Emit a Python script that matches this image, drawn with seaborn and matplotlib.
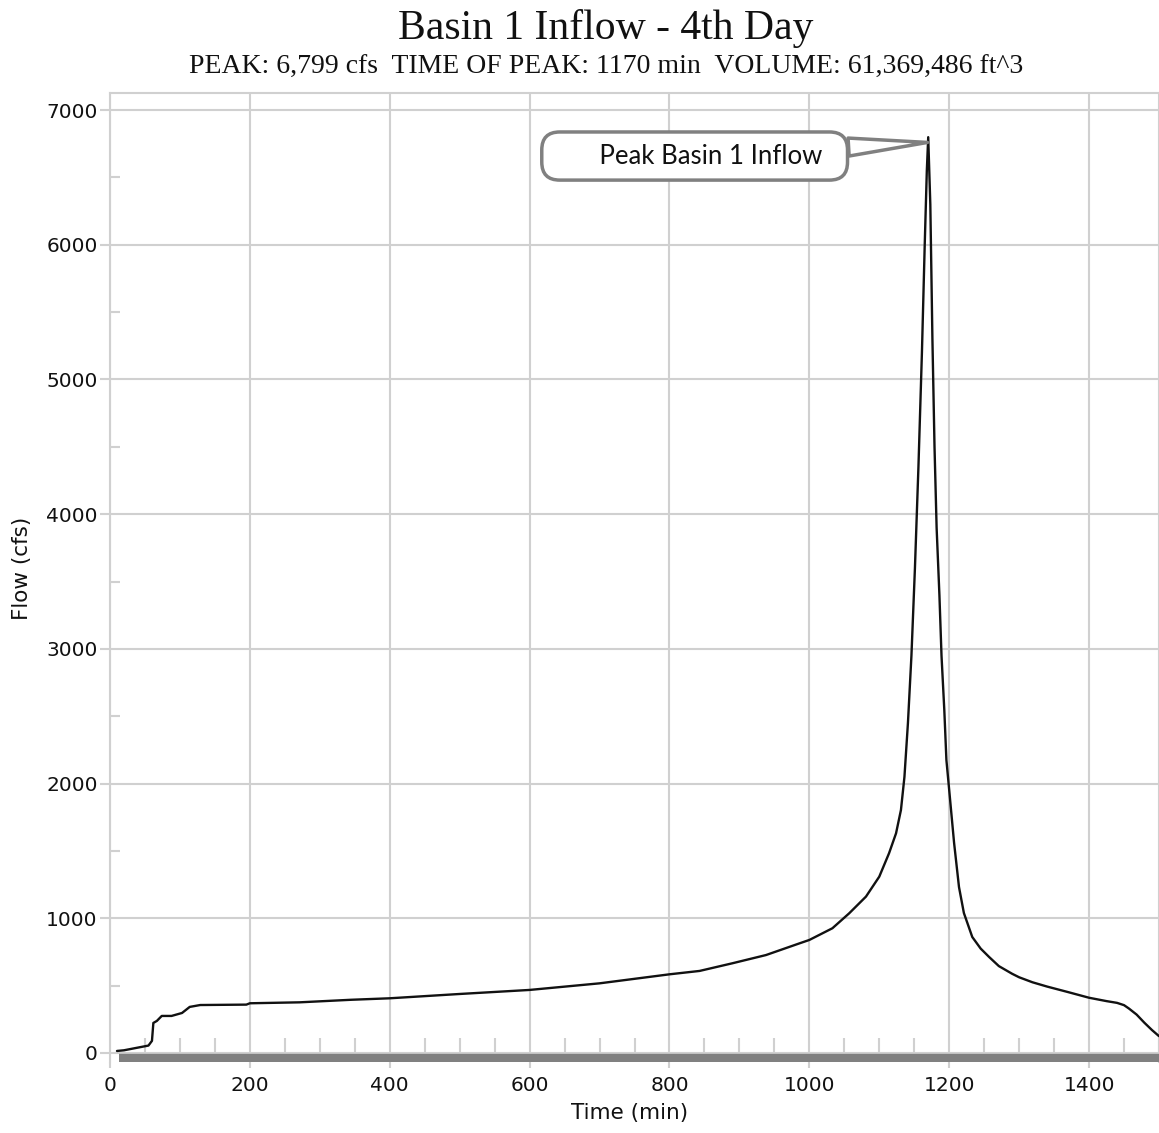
import matplotlib
matplotlib.use("Agg")
import matplotlib.pyplot as plt
import seaborn as sns
import pandas as pd
from matplotlib.ticker import MultipleLocator

# ---- data ----
time_min = [10, 20, 30, 45, 55, 60, 62, 67, 74, 88, 103, 114, 129, 195, 200, 271, 345,
            400, 500, 600, 700, 800, 843, 890, 938, 986, 1000, 1033, 1057, 1081, 1100,
            1114, 1124, 1131, 1136, 1141, 1146, 1151, 1156, 1161, 1165, 1168, 1170,
            1173, 1176, 1179, 1182, 1186, 1189, 1193, 1196, 1200, 1207, 1214, 1221,
            1233, 1245, 1257, 1271, 1290, 1300, 1319, 1340, 1370, 1400, 1425, 1440,
            1450, 1457, 1468, 1479, 1490, 1500]
flow_cfs = [15, 20, 30, 45, 55, 90, 223, 238, 275, 275, 297, 342, 356, 359, 369, 376, 395,
            406, 438, 468, 517, 584, 609, 666, 727, 814, 839, 926, 1037, 1161, 1309,
            1483, 1631, 1804, 2050, 2450, 2950, 3600, 4350, 5200, 6000, 6550, 6799,
            6300, 5300, 4500, 3900, 3400, 2950, 2546, 2175, 1952, 1559, 1232, 1039,
            861, 775, 713, 645, 588, 562, 525, 493, 452, 410, 385, 372,
            355, 330, 285, 225, 170, 125]

bar_time = [13, 1500]
bar_level = [-37, -37]

title = "Basin 1 Inflow - 4th Day"
subtitle = "PEAK: 6,799 cfs  TIME OF PEAK: 1170 min  VOLUME: 61,369,486 ft^3"
callout = "Peak Basin 1 Inflow"
peak_time = 1169
peak_flow = 6760

df = pd.DataFrame({"Time (min)": time_min, "Flow (cfs)": flow_cfs})
bar_df = pd.DataFrame({"t": bar_time, "q": bar_level})

sns.set_theme(style="white")
plt.rcParams["font.family"] = ["DejaVu Sans"]

fig = plt.figure(figsize=(11.59, 11.33), dpi=100)
ax = fig.add_axes([110 / 1159, 1 - 1062 / 1133, 1.0 - 110 / 1159, (1062 - 93) / 1133])

grid_c = "#d0d0d0"
txt_c = "#111111"
ax.set_xlim(0, 1500)
ax.set_ylim(-67, 7127)
ax.xaxis.set_major_locator(MultipleLocator(200))
ax.xaxis.set_minor_locator(MultipleLocator(50))
ax.yaxis.set_major_locator(MultipleLocator(1000))
ax.yaxis.set_minor_locator(MultipleLocator(500))
ax.grid(True, which="major", color=grid_c, linewidth=1.5, zorder=0)
ax.set_axisbelow(True)

sns.lineplot(data=bar_df, x="t", y="q", ax=ax, color="#808080", linewidth=6,
             solid_capstyle="butt", zorder=3)
sns.lineplot(data=df, x="Time (min)", y="Flow (cfs)", ax=ax, color=txt_c,
             linewidth=1.7, zorder=4)

for side in ["top", "left", "right"]:
    ax.spines[side].set_color(grid_c)
    ax.spines[side].set_linewidth(1.5)
ax.spines["bottom"].set_visible(False)

ax.tick_params(axis="y", which="major", direction="out", length=7, width=1.5,
               color=grid_c, labelsize=14.5, labelcolor=txt_c, pad=2, left=True)
ax.tick_params(axis="y", which="minor", direction="in", length=7, width=1.5,
               color=grid_c, left=True)
ax.tick_params(axis="x", which="major", direction="out", length=4, width=1.5,
               color=grid_c, labelsize=14.5, labelcolor=txt_c, pad=6, bottom=True)
ax.tick_params(axis="x", which="minor", direction="in", length=17, width=1.5,
               color=grid_c, bottom=True)

ax.set_xlabel("Time (min)", fontsize=15.5, color=txt_c)
ax.set_ylabel("Flow (cfs)", fontsize=15.5, color=txt_c)
ax.xaxis.set_label_coords((630 - 110) / 1049, -(1103 - 1062) / 969)
ax.yaxis.set_label_coords(-(110 - 32) / 1049, (1062 - 568) / 969)

fig.text(606 / 1159, 1 - 28 / 1133, title, ha="center", va="center",
         fontsize=30, family=["Liberation Serif"], color=txt_c)
fig.text(606 / 1159, 1 - 67 / 1133, subtitle, ha="center", va="center",
         fontsize=20, family=["Liberation Serif"], color=txt_c)

ax.annotate("       " + callout + "  ", xy=(peak_time, peak_flow), xytext=(836, 6659),
            ha="center", va="center", fontsize=18.5, family=["Lato", "DejaVu Sans"],
            color=txt_c, zorder=6,
            bbox=dict(boxstyle="round,pad=0.45,rounding_size=0.7", fc="white",
                      ec="#808080", lw=2.5),
            arrowprops=dict(arrowstyle="wedge,tail_width=0.7,shrink_factor=0.5",
                            fc="white", ec="#808080", lw=2.5, shrinkA=0, shrinkB=0))

fig.savefig("out.png", dpi=100)
